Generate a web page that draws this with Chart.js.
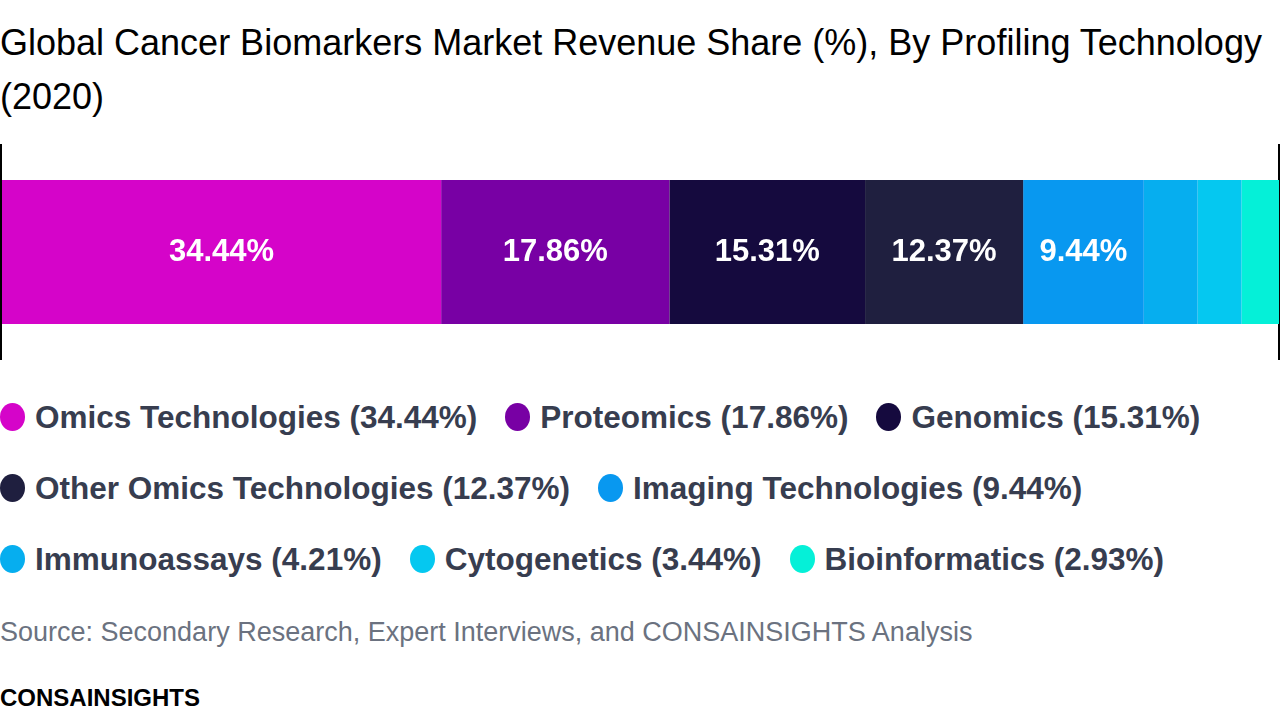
<!DOCTYPE html>
<html><head><meta charset="utf-8">
<script src="https://cdn.jsdelivr.net/npm/chart.js@4"></script>
<style>
body{margin:0;width:1280px;height:708px;overflow:hidden;font-family:"Liberation Sans",Arial,sans-serif;background:#fff}
h1{font-weight:normal;font-size:36px;line-height:54px;margin:0;position:absolute;top:16px;left:0;width:1280px;color:#000}
#wrap{position:absolute;top:144px;left:0;width:1280px;height:216px}
#legend{position:absolute;top:400px;left:0;width:1280px}
.row{display:flex;column-gap:28px;height:71px}
.item{display:flex;align-items:center;font-weight:bold;font-size:31.5px;color:#373d4f;height:34px}
.dot{width:25px;height:28px;border-radius:50%;margin-right:10px}
#src{position:absolute;top:617px;left:0;font-size:27px;color:#6b7280}
#logo{position:absolute;top:684px;left:0;font-size:24px;font-weight:bold;color:#000}
</style></head><body>
<h1>Global Cancer Biomarkers Market Revenue Share (%), By Profiling Technology (2020)</h1>
<div id="wrap"><canvas id="c"></canvas></div>
<div id="legend"></div>
<div id="src">Source: Secondary Research, Expert Interviews, and CONSAINSIGHTS Analysis</div>
<div id="logo">CONSAINSIGHTS</div>
<script>
const categories = ["Omics Technologies","Proteomics","Genomics","Other Omics Technologies","Imaging Technologies","Immunoassays","Cytogenetics","Bioinformatics"];
const shares = [34.44,17.86,15.31,12.37,9.44,4.21,3.44,2.93];
const colors = ["#d504c9","#7800a4","#150a3e","#1f1f3f","#0898f0","#06aeef","#05c8f0","#05f0d8"];
const legendRows = [[0,1,2],[3,4],[5,6,7]];

const leg = document.getElementById("legend");
legendRows.forEach(r=>{
  const row=document.createElement("div");row.className="row";
  r.forEach(i=>{
    const d=document.createElement("div");d.className="item";
    d.innerHTML='<span class="dot" style="background:'+colors[i]+'"></span>'+categories[i]+' ('+shares[i].toFixed(2)+'%)';
    row.appendChild(d);
  });
  leg.appendChild(row);
});

const labelPlugin={id:"lbl",afterDatasetsDraw(chart){
  const ctx=chart.ctx;ctx.save();
  ctx.font="bold 31px 'Liberation Sans', Arial";ctx.fillStyle="#fff";ctx.textAlign="center";ctx.textBaseline="middle";
  chart.data.datasets.forEach((ds,i)=>{
    if(ds.data[0]<9)return;
    const el=chart.getDatasetMeta(i).data[0];
    ctx.fillText(ds.data[0].toFixed(2)+"%",(el.x+el.base)/2,el.y);
  });
  ctx.restore();
}};

new Chart(document.getElementById("c"),{
  type:"bar",
  data:{labels:[""],datasets:categories.map((c,i)=>({label:c,data:[shares[i]],backgroundColor:colors[i],barPercentage:0.667,categoryPercentage:1}))},
  options:{indexAxis:"y",responsive:true,maintainAspectRatio:false,animation:false,
    layout:{padding:{left:1,right:1}},
    plugins:{legend:{display:false},tooltip:{enabled:false}},
    scales:{
      x:{stacked:true,min:0,max:100,ticks:{display:false,stepSize:100},border:{display:false},grid:{color:"#000",lineWidth:2,drawTicks:false}},
      y:{stacked:true,display:false}
    }},
  plugins:[labelPlugin]
});
</script>
</body></html>
